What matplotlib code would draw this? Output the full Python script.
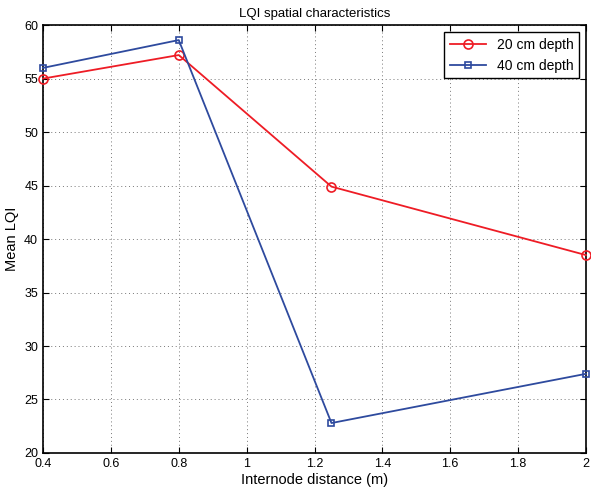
import matplotlib
matplotlib.use("Agg")
import matplotlib.pyplot as plt

plt.rcParams['font.family'] = ['Liberation Sans', 'DejaVu Sans']

distance = [0.4, 0.8, 1.25, 2.0]
lqi_20cm = [55.0, 57.2, 44.9, 38.5]
lqi_40cm = [56.0, 58.6, 22.8, 27.4]
xticks = [0.4, 0.6, 0.8, 1, 1.2, 1.4, 1.6, 1.8, 2]
xticklabels = ['0.4', '0.6', '0.8', '1', '1.2', '1.4', '1.6', '1.8', '2']
yticks = [20, 25, 30, 35, 40, 45, 50, 55, 60]

fig = plt.figure(figsize=(5.91, 4.92), dpi=100)
ax = fig.add_axes([0.0728, 0.0793, 0.9187, 0.8697])

ax.plot(distance, lqi_20cm, color='#ee1c25', marker='o', markersize=6.5,
        markerfacecolor='none', markeredgewidth=1.2, linewidth=1.3,
        label='20 cm depth', clip_on=False, zorder=3)
ax.plot(distance, lqi_40cm, color='#2e4a9e', marker='s', markersize=5,
        markerfacecolor='none', markeredgewidth=1.2, linewidth=1.3,
        label='40 cm depth', clip_on=False, zorder=3)

ax.set_xlim(0.4, 2)
ax.set_ylim(20, 60)
ax.set_xticks(xticks)
ax.set_xticklabels(xticklabels)
ax.set_yticks(yticks)
ax.tick_params(direction='in', labelsize=9, length=4, top=True, right=True, width=0.8)
ax.grid(True, linestyle=(0, (1, 3)), color='#777777', linewidth=0.7)
for s in ax.spines.values():
    s.set_linewidth(1.2)

ax.set_title('LQI spatial characteristics', fontsize=9.5, pad=6)
ax.set_xlabel('Internode distance (m)', fontsize=10.5, labelpad=2)
ax.set_ylabel('Mean LQI', fontsize=10.5, labelpad=4)

leg = ax.legend(loc='upper right', fontsize=10, fancybox=False, framealpha=1,
                edgecolor='black', borderaxespad=0.5, handlelength=2.6)
leg.get_frame().set_linewidth(1.0)

fig.savefig('out.png', dpi=100)
